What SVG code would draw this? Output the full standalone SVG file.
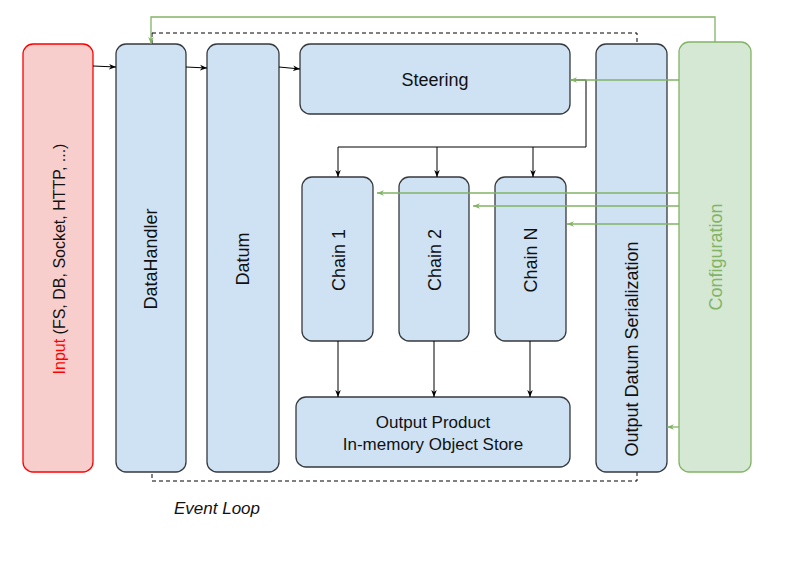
<svg xmlns="http://www.w3.org/2000/svg" width="791" height="561" viewBox="0 0 791 561">
<style>
.blue{fill:#cfe2f3;stroke:#36393d;stroke-width:1.3}
.t{font-family:"Liberation Sans",Arial,sans-serif;font-size:18px;fill:#111;text-anchor:middle;dominant-baseline:central}
.c{fill:none;stroke:#000;stroke-width:1}
.g{fill:none;stroke:#82b366;stroke-width:1.3}
</style>
<defs>
<marker id="ab" viewBox="0 0 10 10" refX="10" refY="5" markerWidth="7" markerHeight="7" orient="auto" markerUnits="userSpaceOnUse"><path d="M0,1 L10,5 L0,9 L3,5 Z" fill="#000"/></marker>
<marker id="ag" viewBox="0 0 10 10" refX="10" refY="5" markerWidth="7" markerHeight="7" orient="auto" markerUnits="userSpaceOnUse"><path d="M0,1 L10,5 L0,9 L3,5 Z" fill="#82b366"/></marker>
</defs>
<rect x="0" y="0" width="791" height="561" fill="#fff"/>
<g id="eventloop">
<rect x="152" y="33" width="485" height="448" fill="none" stroke="#000" stroke-dasharray="4 3"/>
<text x="217" y="508" class="t" style="font-style:italic;font-size:17px">Event Loop</text>
</g>
<g id="input"><rect x="23" y="44" width="70" height="428" rx="10" fill="#f8cecc" stroke="#ff0000" stroke-width="1.3"/>
<text class="t" transform="translate(59,259) rotate(-90)" style="font-size:16px"><tspan fill="#ff0000">Input</tspan> (FS, DB, Socket, HTTP, ...)</text></g>
<g id="datahandler"><rect x="116" y="44" width="70" height="428" rx="10" class="blue"/>
<text class="t" transform="translate(151,259) rotate(-90)">DataHandler</text></g>
<g id="datum"><rect x="207" y="44" width="72" height="428" rx="10" class="blue"/>
<text class="t" transform="translate(243,259) rotate(-90)">Datum</text></g>
<g id="steering"><rect x="300" y="44" width="270" height="70" rx="10" class="blue"/>
<text class="t" x="435" y="80">Steering</text></g>
<g id="chain1"><rect x="302" y="177" width="71" height="164" rx="10" class="blue"/>
<text class="t" transform="translate(339,260) rotate(-90)">Chain 1</text></g>
<g id="chain2"><rect x="399" y="177" width="70" height="164" rx="10" class="blue"/>
<text class="t" transform="translate(435,260) rotate(-90)">Chain 2</text></g>
<g id="chainN"><rect x="495" y="177" width="71" height="164" rx="10" class="blue"/>
<text class="t" transform="translate(531,260) rotate(-90)">Chain N</text></g>
<g id="outputproduct"><rect x="296" y="397" width="274" height="70" rx="10" class="blue"/>
<text class="t" x="433" y="422" style="font-size:17px">Output Product</text>
<text class="t" x="433" y="444" style="font-size:17px">In-memory Object Store</text></g>
<g id="serialization"><rect x="596" y="44" width="71" height="428" rx="10" class="blue"/>
<text class="t" transform="translate(632,349) rotate(-90)">Output Datum Serialization</text></g>
<g id="configuration"><rect x="679" y="42" width="72" height="430" rx="10" fill="#d5e8d4" stroke="#82b366" stroke-width="1.3"/>
<text class="t" transform="translate(716,257) rotate(-90)" style="fill:#82b366">Configuration</text></g>
<g id="connectors">
<path class="c" d="M93,66 L116,67" marker-end="url(#ab)"/>
<path class="c" d="M186,67 L207,68" marker-end="url(#ab)"/>
<path class="c" d="M279,67 L300,69" marker-end="url(#ab)"/>
<path class="c" d="M570,80 L586,80 L586,147 L338,147 L338,177" marker-end="url(#ab)"/>
<path class="c" d="M437,147 L437,177" marker-end="url(#ab)"/>
<path class="c" d="M533,147 L533,177" marker-end="url(#ab)"/>
<path class="c" d="M338,341 L338,397" marker-end="url(#ab)"/>
<path class="c" d="M434,341 L434,397" marker-end="url(#ab)"/>
<path class="c" d="M530,341 L530,397" marker-end="url(#ab)"/>
<path class="g" d="M715,42 L715,17 L151,17 L151,44" marker-end="url(#ag)"/>
<path class="g" d="M679,80 L570,80" marker-end="url(#ag)"/>
<path class="g" d="M679,193 L377,193" marker-end="url(#ag)"/>
<path class="g" d="M679,206 L473,206" marker-end="url(#ag)"/>
<path class="g" d="M679,224 L567,224" marker-end="url(#ag)"/>
<path class="g" d="M679,427 L667,427" marker-end="url(#ag)"/>
</g>
</svg>
